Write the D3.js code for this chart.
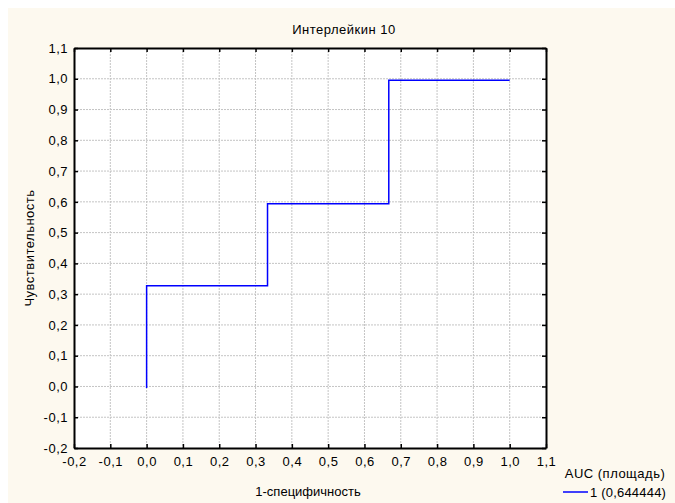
<!DOCTYPE html>
<html>
<head>
<meta charset="utf-8">
<script src="https://cdn.jsdelivr.net/npm/d3@7"></script>
<style>
  body { margin: 0; background: #ffffff; }
  text { font-family: "Liberation Sans", Arial, sans-serif; fill: #000; letter-spacing: 0.5px; }
</style>
</head>
<body>
<div id="wrapper"></div>
<script>
const title = "Интерлейкин 10";
const xLabel = "1-специфичность";
const yLabel = "Чувствительность";
const legendTitle = "AUC (площадь)";
const legendLabel = "1 (0,644444)";

// step curve points (1-specificity, sensitivity)
const rocX = [0, 0, 0.333, 0.333, 0.667, 0.667, 1.0];
const rocY = [-0.005, 0.327, 0.327, 0.594, 0.594, 0.995, 0.995];

const tickValues = [-0.2, -0.1, 0, 0.1, 0.2, 0.3, 0.4, 0.5, 0.6, 0.7, 0.8, 0.9, 1.0, 1.1];

function buildPlot() {
    const dimension = {
        width: 675,
        height: 503,
        margin: { top: 48, left: 74, bottom: 55, right: 129 }
    };
    dimension.boundedWidth = dimension.width - dimension.margin.left - dimension.margin.right;
    dimension.boundedHeight = dimension.height - dimension.margin.top - dimension.margin.bottom;

    const svg = d3.select("#wrapper").append("svg")
        .attr("width", dimension.width)
        .attr("height", dimension.height);

    svg.append("rect")
        .attr("x", 8).attr("y", 8)
        .attr("width", dimension.width - 8).attr("height", dimension.height - 8)
        .attr("fill", "#fdf9ef");

    const xScale = d3.scaleLinear().domain([-0.2, 1.1])
        .range([dimension.margin.left, dimension.margin.left + dimension.boundedWidth]);
    const yScale = d3.scaleLinear().domain([-0.2, 1.1])
        .range([dimension.margin.top + dimension.boundedHeight, dimension.margin.top]);

    const fmt = d => d3.format(".1f")(d).replace(".", ",").replace("−", "-");

    svg.append("rect")
        .attr("x", xScale(-0.2)).attr("y", yScale(1.1))
        .attr("width", dimension.boundedWidth).attr("height", dimension.boundedHeight)
        .attr("fill", "#ffffff");

    // grid
    const inner = tickValues.slice(1, -1);
    svg.append("g").selectAll("line").data(inner).join("line")
        .attr("x1", d => xScale(d)).attr("x2", d => xScale(d))
        .attr("y1", yScale(1.1)).attr("y2", yScale(-0.2))
        .attr("stroke", "#c4c4c4").attr("stroke-dasharray", "2,1");
    svg.append("g").selectAll("line").data(inner).join("line")
        .attr("y1", d => yScale(d)).attr("y2", d => yScale(d))
        .attr("x1", xScale(-0.2)).attr("x2", xScale(1.1))
        .attr("stroke", "#c4c4c4").attr("stroke-dasharray", "2,1");

    // axes with inward ticks
    const bottom = svg.append("g")
        .attr("transform", `translate(0,${yScale(-0.2)})`)
        .call(d3.axisBottom(xScale).tickValues(tickValues).tickSizeInner(-4).tickSizeOuter(0).tickPadding(9).tickFormat(fmt));
    const left = svg.append("g")
        .attr("transform", `translate(${xScale(-0.2)},0)`)
        .call(d3.axisLeft(yScale).tickValues(tickValues).tickSizeInner(-4).tickSizeOuter(0).tickPadding(6).tickFormat(fmt));
    const top = svg.append("g")
        .attr("transform", `translate(0,${yScale(1.1)})`)
        .call(d3.axisTop(xScale).tickValues(tickValues).tickSizeInner(-4).tickSizeOuter(0).tickFormat(""));
    const right = svg.append("g")
        .attr("transform", `translate(${xScale(1.1)},0)`)
        .call(d3.axisRight(yScale).tickValues(tickValues).tickSizeInner(-4).tickSizeOuter(0).tickFormat(""));

    [bottom, left, top, right].forEach(g => {
        g.select(".domain").attr("stroke", "#000").attr("stroke-width", 2);
        g.selectAll(".tick line").attr("stroke", "#000").attr("stroke-width", 1.5);
        g.selectAll(".tick text").attr("font-size", 13).attr("font-family", "Liberation Sans, Arial, sans-serif").attr("fill", "#000");
    });

    // ROC step line
    const pts = rocX.map((x, i) => [x, rocY[i]]);
    svg.append("path")
        .datum(pts)
        .attr("fill", "none")
        .attr("stroke", "#0000ff")
        .attr("stroke-width", 1.5)
        .attr("d", d3.line().x(d => xScale(d[0])).y(d => yScale(d[1])));

    svg.append("text").attr("x", 344).attr("y", 34)
        .attr("text-anchor", "middle").attr("font-size", 13).text(title);
    svg.append("text").attr("x", 308).attr("y", 496)
        .attr("text-anchor", "middle").attr("font-size", 13)
        .style("letter-spacing", "0px").text(xLabel);
    svg.append("text")
        .attr("transform", `translate(34,${yScale(0.45)}) rotate(-90)`)
        .attr("text-anchor", "middle").attr("font-size", 13).text(yLabel);

    // legend
    svg.append("text").attr("x", 615).attr("y", 478)
        .attr("text-anchor", "middle").attr("font-size", 13).text(legendTitle);
    svg.append("line").attr("x1", 563).attr("x2", 588).attr("y1", 492).attr("y2", 492)
        .attr("stroke", "#0000ff").attr("stroke-width", 1.5);
    svg.append("text").attr("x", 590).attr("y", 497)
        .attr("font-size", 13).style("letter-spacing", "0.2px").text(legendLabel);
}

buildPlot();
</script>
</body>
</html>
